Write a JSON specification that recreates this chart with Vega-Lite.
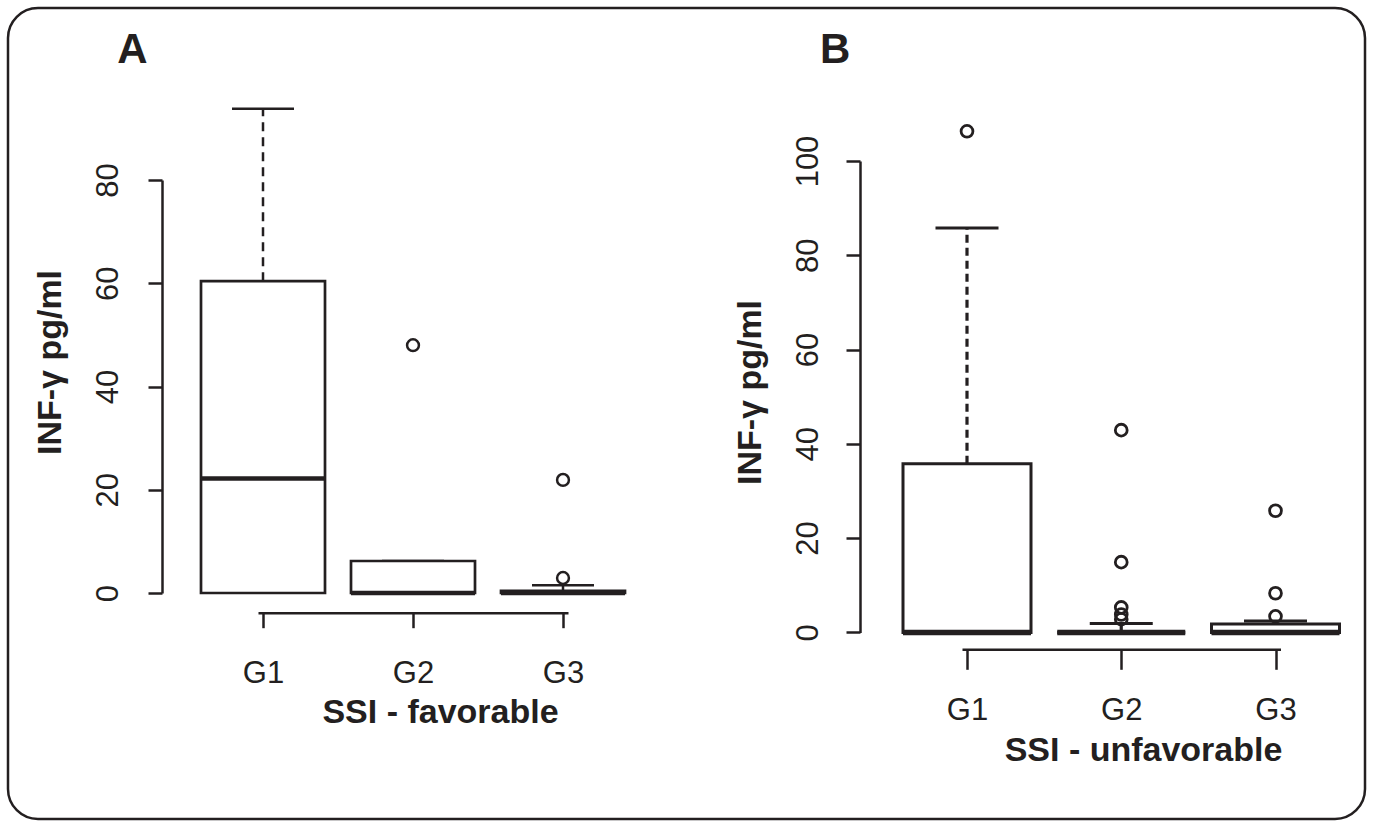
{
  "$schema": "https://vega.github.io/schema/vega-lite/v6.json",
  "width": 1357,
  "height": 811,
  "autosize": {"type": "none"},
  "padding": {"left": 8, "top": 8, "right": 8, "bottom": 3},
  "background": "white",
  "config": {
    "font": "Liberation Sans",
    "view": {"stroke": "#231f20", "strokeWidth": 2.5, "cornerRadius": 30},
    "axis": {
      "domainColor": "#231f20", "tickColor": "#231f20", "labelColor": "#231f20", "titleColor": "#231f20",
      "grid": false, "domainWidth": 2.5, "tickWidth": 2.5, "zindex": 1,
      "labelFont": "Liberation Sans", "titleFont": "Liberation Sans",
      "labelFlush": false, "labelOverlap": false
    }
  },
  "datasets": {
    "boxA": [
      {"grp": 1, "lower": 0, "q1": 0, "median": 22.2, "q3": 60.4, "upper": 93.8},
      {"grp": 2, "lower": 0, "q1": 0, "median": 0, "q3": 6.2, "upper": 6.2},
      {"grp": 3, "lower": 0, "q1": 0, "median": 0, "q3": 0.4, "upper": 1.5}
    ],
    "outA": [
      {"grp": 2, "value": 48.0},
      {"grp": 3, "value": 21.9},
      {"grp": 3, "value": 2.9}
    ],
    "boxB": [
      {"grp": 1, "lower": 0, "q1": 0, "median": 0, "q3": 35.8, "upper": 85.8},
      {"grp": 2, "lower": 0, "q1": 0, "median": 0, "q3": 0, "upper": 1.9},
      {"grp": 3, "lower": 0, "q1": 0, "median": 0, "q3": 1.8, "upper": 2.4}
    ],
    "outB": [
      {"grp": 1, "value": 106.3},
      {"grp": 2, "value": 42.9},
      {"grp": 2, "value": 14.9},
      {"grp": 2, "value": 5.3},
      {"grp": 2, "value": 3.8},
      {"grp": 2, "value": 2.8},
      {"grp": 3, "value": 25.8},
      {"grp": 3, "value": 8.3},
      {"grp": 3, "value": 3.4}
    ]
  },
  "layer": [
    {
      "layer": [
        {
          "data": {"name": "boxA"},
          "mark": {"type": "rule", "stroke": "#231f20", "strokeWidth": 2.5, "strokeDash": [9, 6]},
          "encoding": {
            "x": {"field": "grp", "type": "quantitative", "scale": {"domain": [1, 3], "range": [250, 560], "zero": false, "nice": false},
              "axis": {"orient": "bottom", "offset": -206.3, "values": [1, 2, 3], "labelExpr": "'G' + datum.value", "tickSize": 15, "labelFontSize": 31, "labelBaseline": "alphabetic", "labelPadding": 55, "title": "SSI - favorable", "titleFontSize": 34, "titleFontWeight": "bold", "titleX": 432, "titleY": 109.3, "titleBaseline": "alphabetic", "titleAlign": "center"}},
            "y": {"field": "q3", "type": "quantitative", "scale": {"domain": [0, 80], "range": [585, 172], "zero": false, "nice": false},
              "axis": {"orient": "left", "offset": -154, "values": [0, 20, 40, 60, 80], "tickSize": 14, "labelAngle": -90, "labelAlign": "center", "labelBaseline": "alphabetic", "labelFontSize": 31, "labelPadding": 31, "title": "INF-γ pg/ml", "titleFontSize": 34, "titleFontWeight": "bold", "titleAngle": -90, "titleX": -102, "titleY": 354, "titleBaseline": "alphabetic", "titleAlign": "center"}},
            "y2": {"field": "upper"}
          }
        },
        {
          "data": {"name": "boxA"},
          "mark": {"type": "tick", "orient": "horizontal", "size": 62, "thickness": 2.5, "color": "#231f20", "opacity": 1},
          "encoding": {
            "x": {"field": "grp", "type": "quantitative", "scale": {"domain": [1, 3], "range": [250, 560], "zero": false, "nice": false},
              "axis": {"orient": "bottom", "offset": -206.3, "values": [1, 2, 3], "labelExpr": "'G' + datum.value", "tickSize": 15, "labelFontSize": 31, "labelBaseline": "alphabetic", "labelPadding": 55, "title": "SSI - favorable", "titleFontSize": 34, "titleFontWeight": "bold", "titleX": 432, "titleY": 109.3, "titleBaseline": "alphabetic", "titleAlign": "center"}},
            "y": {"field": "upper", "type": "quantitative", "scale": {"domain": [0, 80], "range": [585, 172], "zero": false, "nice": false},
              "axis": {"orient": "left", "offset": -154, "values": [0, 20, 40, 60, 80], "tickSize": 14, "labelAngle": -90, "labelAlign": "center", "labelBaseline": "alphabetic", "labelFontSize": 31, "labelPadding": 31, "title": "INF-γ pg/ml", "titleFontSize": 34, "titleFontWeight": "bold", "titleAngle": -90, "titleX": -102, "titleY": 354, "titleBaseline": "alphabetic", "titleAlign": "center"}}
          }
        },
        {
          "data": {"name": "boxA"},
          "mark": {"type": "bar", "width": 124, "fill": "white", "stroke": "#231f20", "strokeWidth": 2.7, "opacity": 1},
          "encoding": {
            "x": {"field": "grp", "type": "quantitative", "scale": {"domain": [1, 3], "range": [250, 560], "zero": false, "nice": false},
              "axis": {"orient": "bottom", "offset": -206.3, "values": [1, 2, 3], "labelExpr": "'G' + datum.value", "tickSize": 15, "labelFontSize": 31, "labelBaseline": "alphabetic", "labelPadding": 55, "title": "SSI - favorable", "titleFontSize": 34, "titleFontWeight": "bold", "titleX": 432, "titleY": 109.3, "titleBaseline": "alphabetic", "titleAlign": "center"}},
            "y": {"field": "q1", "type": "quantitative", "scale": {"domain": [0, 80], "range": [585, 172], "zero": false, "nice": false},
              "axis": {"orient": "left", "offset": -154, "values": [0, 20, 40, 60, 80], "tickSize": 14, "labelAngle": -90, "labelAlign": "center", "labelBaseline": "alphabetic", "labelFontSize": 31, "labelPadding": 31, "title": "INF-γ pg/ml", "titleFontSize": 34, "titleFontWeight": "bold", "titleAngle": -90, "titleX": -102, "titleY": 354, "titleBaseline": "alphabetic", "titleAlign": "center"}},
            "y2": {"field": "q3"}
          }
        },
        {
          "data": {"name": "boxA"},
          "mark": {"type": "tick", "orient": "horizontal", "size": 124, "thickness": 4.5, "color": "#231f20", "opacity": 1},
          "encoding": {
            "x": {"field": "grp", "type": "quantitative", "scale": {"domain": [1, 3], "range": [250, 560], "zero": false, "nice": false},
              "axis": {"orient": "bottom", "offset": -206.3, "values": [1, 2, 3], "labelExpr": "'G' + datum.value", "tickSize": 15, "labelFontSize": 31, "labelBaseline": "alphabetic", "labelPadding": 55, "title": "SSI - favorable", "titleFontSize": 34, "titleFontWeight": "bold", "titleX": 432, "titleY": 109.3, "titleBaseline": "alphabetic", "titleAlign": "center"}},
            "y": {"field": "median", "type": "quantitative", "scale": {"domain": [0, 80], "range": [585, 172], "zero": false, "nice": false},
              "axis": {"orient": "left", "offset": -154, "values": [0, 20, 40, 60, 80], "tickSize": 14, "labelAngle": -90, "labelAlign": "center", "labelBaseline": "alphabetic", "labelFontSize": 31, "labelPadding": 31, "title": "INF-γ pg/ml", "titleFontSize": 34, "titleFontWeight": "bold", "titleAngle": -90, "titleX": -102, "titleY": 354, "titleBaseline": "alphabetic", "titleAlign": "center"}}
          }
        },
        {
          "data": {"name": "outA"},
          "mark": {"type": "point", "shape": "circle", "filled": false, "size": 140, "strokeWidth": 2.5, "color": "#231f20", "opacity": 1},
          "encoding": {
            "x": {"field": "grp", "type": "quantitative", "scale": {"domain": [1, 3], "range": [250, 560], "zero": false, "nice": false},
              "axis": {"orient": "bottom", "offset": -206.3, "values": [1, 2, 3], "labelExpr": "'G' + datum.value", "tickSize": 15, "labelFontSize": 31, "labelBaseline": "alphabetic", "labelPadding": 55, "title": "SSI - favorable", "titleFontSize": 34, "titleFontWeight": "bold", "titleX": 432, "titleY": 109.3, "titleBaseline": "alphabetic", "titleAlign": "center"}},
            "y": {"field": "value", "type": "quantitative", "scale": {"domain": [0, 80], "range": [585, 172], "zero": false, "nice": false},
              "axis": {"orient": "left", "offset": -154, "values": [0, 20, 40, 60, 80], "tickSize": 14, "labelAngle": -90, "labelAlign": "center", "labelBaseline": "alphabetic", "labelFontSize": 31, "labelPadding": 31, "title": "INF-γ pg/ml", "titleFontSize": 34, "titleFontWeight": "bold", "titleAngle": -90, "titleX": -102, "titleY": 354, "titleBaseline": "alphabetic", "titleAlign": "center"}}
          }
        },
        {
          "data": {"values": [{"label": "A"}]},
          "mark": {"type": "text", "fontSize": 42, "fontWeight": "bold", "baseline": "alphabetic", "align": "center", "color": "#231f20"},
          "encoding": {
            "x": {"datum": 0.13, "type": "quantitative", "scale": {"domain": [1, 3], "range": [250, 560], "zero": false, "nice": false},
              "axis": {"orient": "bottom", "offset": -206.3, "values": [1, 2, 3], "labelExpr": "'G' + datum.value", "tickSize": 15, "labelFontSize": 31, "labelBaseline": "alphabetic", "labelPadding": 55, "title": "SSI - favorable", "titleFontSize": 34, "titleFontWeight": "bold", "titleX": 432, "titleY": 109.3, "titleBaseline": "alphabetic", "titleAlign": "center"}},
            "y": {"datum": 102.7, "type": "quantitative", "scale": {"domain": [0, 80], "range": [585, 172], "zero": false, "nice": false},
              "axis": {"orient": "left", "offset": -154, "values": [0, 20, 40, 60, 80], "tickSize": 14, "labelAngle": -90, "labelAlign": "center", "labelBaseline": "alphabetic", "labelFontSize": 31, "labelPadding": 31, "title": "INF-γ pg/ml", "titleFontSize": 34, "titleFontWeight": "bold", "titleAngle": -90, "titleX": -102, "titleY": 354, "titleBaseline": "alphabetic", "titleAlign": "center"}},
            "text": {"field": "label"}
          }
        }
      ]
    },
    {
      "layer": [
        {
          "data": {"name": "boxB"},
          "mark": {"type": "rule", "stroke": "#231f20", "strokeWidth": 3.2, "strokeDash": [8, 5]},
          "encoding": {
            "x": {"field": "grp", "type": "quantitative", "scale": {"domain": [1, 3], "range": [954, 1272.5], "zero": false, "nice": false},
              "axis": {"orient": "bottom", "offset": -169.7, "values": [1, 2, 3], "labelExpr": "'G' + datum.value", "tickSize": 20, "labelFontSize": 31, "labelBaseline": "alphabetic", "labelPadding": 50, "title": "SSI - unfavorable", "titleFontSize": 34, "titleFontWeight": "bold", "titleX": 1135, "titleY": 110.7, "titleBaseline": "alphabetic", "titleAlign": "center"}},
            "y": {"field": "q3", "type": "quantitative", "scale": {"domain": [0, 100], "range": [624.4, 153], "zero": false, "nice": false},
              "axis": {"orient": "left", "offset": -852, "values": [0, 20, 40, 60, 80, 100], "tickSize": 14, "labelAngle": -90, "labelAlign": "center", "labelBaseline": "alphabetic", "labelFontSize": 31, "labelPadding": 29, "title": "INF-γ pg/ml", "titleFontSize": 34, "titleFontWeight": "bold", "titleAngle": -90, "titleX": -100, "titleY": 384, "titleBaseline": "alphabetic", "titleAlign": "center"}},
            "y2": {"field": "upper"}
          }
        },
        {
          "data": {"name": "boxB"},
          "mark": {"type": "tick", "orient": "horizontal", "size": 63, "thickness": 3, "color": "#231f20", "opacity": 1},
          "encoding": {
            "x": {"field": "grp", "type": "quantitative", "scale": {"domain": [1, 3], "range": [954, 1272.5], "zero": false, "nice": false},
              "axis": {"orient": "bottom", "offset": -169.7, "values": [1, 2, 3], "labelExpr": "'G' + datum.value", "tickSize": 20, "labelFontSize": 31, "labelBaseline": "alphabetic", "labelPadding": 50, "title": "SSI - unfavorable", "titleFontSize": 34, "titleFontWeight": "bold", "titleX": 1135, "titleY": 110.7, "titleBaseline": "alphabetic", "titleAlign": "center"}},
            "y": {"field": "upper", "type": "quantitative", "scale": {"domain": [0, 100], "range": [624.4, 153], "zero": false, "nice": false},
              "axis": {"orient": "left", "offset": -852, "values": [0, 20, 40, 60, 80, 100], "tickSize": 14, "labelAngle": -90, "labelAlign": "center", "labelBaseline": "alphabetic", "labelFontSize": 31, "labelPadding": 29, "title": "INF-γ pg/ml", "titleFontSize": 34, "titleFontWeight": "bold", "titleAngle": -90, "titleX": -100, "titleY": 384, "titleBaseline": "alphabetic", "titleAlign": "center"}}
          }
        },
        {
          "data": {"name": "boxB"},
          "mark": {"type": "bar", "width": 128, "fill": "white", "stroke": "#231f20", "strokeWidth": 3, "opacity": 1},
          "encoding": {
            "x": {"field": "grp", "type": "quantitative", "scale": {"domain": [1, 3], "range": [954, 1272.5], "zero": false, "nice": false},
              "axis": {"orient": "bottom", "offset": -169.7, "values": [1, 2, 3], "labelExpr": "'G' + datum.value", "tickSize": 20, "labelFontSize": 31, "labelBaseline": "alphabetic", "labelPadding": 50, "title": "SSI - unfavorable", "titleFontSize": 34, "titleFontWeight": "bold", "titleX": 1135, "titleY": 110.7, "titleBaseline": "alphabetic", "titleAlign": "center"}},
            "y": {"field": "q1", "type": "quantitative", "scale": {"domain": [0, 100], "range": [624.4, 153], "zero": false, "nice": false},
              "axis": {"orient": "left", "offset": -852, "values": [0, 20, 40, 60, 80, 100], "tickSize": 14, "labelAngle": -90, "labelAlign": "center", "labelBaseline": "alphabetic", "labelFontSize": 31, "labelPadding": 29, "title": "INF-γ pg/ml", "titleFontSize": 34, "titleFontWeight": "bold", "titleAngle": -90, "titleX": -100, "titleY": 384, "titleBaseline": "alphabetic", "titleAlign": "center"}},
            "y2": {"field": "q3"}
          }
        },
        {
          "data": {"name": "boxB"},
          "mark": {"type": "tick", "orient": "horizontal", "size": 128, "thickness": 5.5, "color": "#231f20", "opacity": 1},
          "encoding": {
            "x": {"field": "grp", "type": "quantitative", "scale": {"domain": [1, 3], "range": [954, 1272.5], "zero": false, "nice": false},
              "axis": {"orient": "bottom", "offset": -169.7, "values": [1, 2, 3], "labelExpr": "'G' + datum.value", "tickSize": 20, "labelFontSize": 31, "labelBaseline": "alphabetic", "labelPadding": 50, "title": "SSI - unfavorable", "titleFontSize": 34, "titleFontWeight": "bold", "titleX": 1135, "titleY": 110.7, "titleBaseline": "alphabetic", "titleAlign": "center"}},
            "y": {"field": "median", "type": "quantitative", "scale": {"domain": [0, 100], "range": [624.4, 153], "zero": false, "nice": false},
              "axis": {"orient": "left", "offset": -852, "values": [0, 20, 40, 60, 80, 100], "tickSize": 14, "labelAngle": -90, "labelAlign": "center", "labelBaseline": "alphabetic", "labelFontSize": 31, "labelPadding": 29, "title": "INF-γ pg/ml", "titleFontSize": 34, "titleFontWeight": "bold", "titleAngle": -90, "titleX": -100, "titleY": 384, "titleBaseline": "alphabetic", "titleAlign": "center"}}
          }
        },
        {
          "data": {"name": "outB"},
          "mark": {"type": "point", "shape": "circle", "filled": false, "size": 140, "strokeWidth": 2.8, "color": "#231f20", "opacity": 1},
          "encoding": {
            "x": {"field": "grp", "type": "quantitative", "scale": {"domain": [1, 3], "range": [954, 1272.5], "zero": false, "nice": false},
              "axis": {"orient": "bottom", "offset": -169.7, "values": [1, 2, 3], "labelExpr": "'G' + datum.value", "tickSize": 20, "labelFontSize": 31, "labelBaseline": "alphabetic", "labelPadding": 50, "title": "SSI - unfavorable", "titleFontSize": 34, "titleFontWeight": "bold", "titleX": 1135, "titleY": 110.7, "titleBaseline": "alphabetic", "titleAlign": "center"}},
            "y": {"field": "value", "type": "quantitative", "scale": {"domain": [0, 100], "range": [624.4, 153], "zero": false, "nice": false},
              "axis": {"orient": "left", "offset": -852, "values": [0, 20, 40, 60, 80, 100], "tickSize": 14, "labelAngle": -90, "labelAlign": "center", "labelBaseline": "alphabetic", "labelFontSize": 31, "labelPadding": 29, "title": "INF-γ pg/ml", "titleFontSize": 34, "titleFontWeight": "bold", "titleAngle": -90, "titleX": -100, "titleY": 384, "titleBaseline": "alphabetic", "titleAlign": "center"}}
          }
        },
        {
          "data": {"values": [{"label": "B"}]},
          "mark": {"type": "text", "fontSize": 42, "fontWeight": "bold", "baseline": "alphabetic", "align": "center", "color": "#231f20"},
          "encoding": {
            "x": {"datum": 0.146, "type": "quantitative", "scale": {"domain": [1, 3], "range": [954, 1272.5], "zero": false, "nice": false},
              "axis": {"orient": "bottom", "offset": -169.7, "values": [1, 2, 3], "labelExpr": "'G' + datum.value", "tickSize": 20, "labelFontSize": 31, "labelBaseline": "alphabetic", "labelPadding": 50, "title": "SSI - unfavorable", "titleFontSize": 34, "titleFontWeight": "bold", "titleX": 1135, "titleY": 110.7, "titleBaseline": "alphabetic", "titleAlign": "center"}},
            "y": {"datum": 120.8, "type": "quantitative", "scale": {"domain": [0, 100], "range": [624.4, 153], "zero": false, "nice": false},
              "axis": {"orient": "left", "offset": -852, "values": [0, 20, 40, 60, 80, 100], "tickSize": 14, "labelAngle": -90, "labelAlign": "center", "labelBaseline": "alphabetic", "labelFontSize": 31, "labelPadding": 29, "title": "INF-γ pg/ml", "titleFontSize": 34, "titleFontWeight": "bold", "titleAngle": -90, "titleX": -100, "titleY": 384, "titleBaseline": "alphabetic", "titleAlign": "center"}},
            "text": {"field": "label"}
          }
        }
      ]
    }
  ],
  "resolve": {
    "scale": {"x": "independent", "y": "independent"},
    "axis": {"x": "independent", "y": "independent"}
  }
}
